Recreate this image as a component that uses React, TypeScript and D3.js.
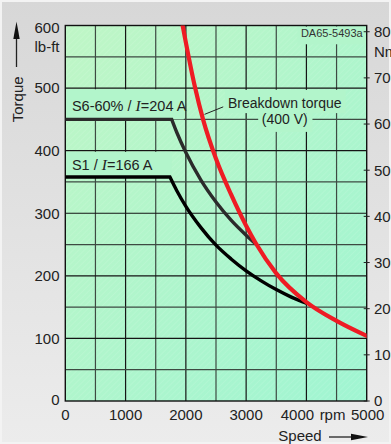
import React from "react";
import * as d3 from "d3";

// ---- data ----
const speedTicks = [0, 1000, 2000, 3000, 4000, 5000];
const torqueTicks = [0, 100, 200, 300, 400, 500, 600];
const nmTicks = [0, 100, 200, 300, 400, 500, 600, 700, 800];
const gridSpeeds = [500, 1000, 1500, 2000, 2500, 3000, 3500, 4000, 4500];
const gridTorques = [50, 100, 150, 200, 250, 300, 350, 400, 450, 500, 550];

// S6-60% / I=204 A  [rpm, lb-ft]
const s6Speed = [0, 1765, 1850, 2000, 2250, 2500, 2750, 3000, 3160];
const s6Torque = [450, 450, 429, 397, 353, 318, 289, 265, 251];
// S1 / I=166 A
const s1Speed = [0, 1735, 1850, 2000, 2250, 2500, 2750, 3000, 3250, 3500, 3750, 4010];
const s1Torque = [358, 358, 336, 311, 277, 249, 227, 208, 192, 178, 166, 156];
// Breakdown torque (400 V)
const bdSpeed = [1935, 2150, 2285, 2500, 2750, 3000, 3160, 3500, 4000, 4500, 5000];
const bdTorque = [606, 502, 450, 387, 330, 280, 252, 204, 158, 128, 104];

const NM_PER_LBFT = 1.35582;

const W = 391;
const H = 444;
const L = 65.3, R = 366.7, T = 25.5, B = 401;

const FONT = "'Liberation Sans', Arial, sans-serif";
const TXT = "#222";

export default function App() {
  const x = d3.scaleLinear().domain([0, 5000]).range([L, R]);
  const y = d3.scaleLinear().domain([0, 600]).range([B, T]);
  const yNm = d3.scaleLinear().domain([0, 600 * NM_PER_LBFT]).range([B, T]);

  const lineGen = d3
    .line<[number, number]>()
    .x((d) => x(d[0]))
    .y((d) => y(d[1]))
    .curve(d3.curveMonotoneX);

  // flat segment + smooth falling part with a sharp corner
  const cornerPath = (sp: number[], tq: number[]) => {
    const pts: [number, number][] = sp.map((s, i) => [s, tq[i]]);
    const flat = `M${x(pts[0][0])},${y(pts[0][1])}`;
    const fall = lineGen(pts.slice(1)) || "";
    return flat + "L" + fall.slice(1);
  };

  const bdPts: [number, number][] = bdSpeed.map((s, i) => [s, bdTorque[i]]);

  const majorX = (v: number) => v % 1000 === 0;
  const majorY = (v: number) => v % 100 === 0;

  return (
    <svg
      width={W}
      height={H}
      style={{ position: "absolute", left: 0, top: 0 }}
      fontFamily={FONT}
    >
      <defs>
        <linearGradient id="bg" x1="0" y1="0" x2="0" y2="1">
          <stop offset="0" stopColor="#d7d7d7" />
          <stop offset="1" stopColor="#ececec" />
        </linearGradient>
        <linearGradient id="plotbg" x1="0" y1="0" x2="1" y2="1">
          <stop offset="0" stopColor="#bff6c6" />
          <stop offset="1" stopColor="#a0f5d2" />
        </linearGradient>
        <pattern
          id="hatch"
          width="4"
          height="4"
          patternUnits="userSpaceOnUse"
          patternTransform="rotate(45)"
        >
          <line x1="0" y1="0" x2="0" y2="4" stroke="#ffffff" strokeWidth="1" opacity="0.18" />
        </pattern>
        <clipPath id="plotclip">
          <rect x={L} y={T} width={R - L} height={B - T} />
        </clipPath>
      </defs>

      {/* figure background */}
      <rect x={0} y={0} width={W} height={H} fill="url(#bg)" />
      <rect x={1} y={1} width={W - 2} height={H - 2} fill="none" stroke="#f3f3f3" strokeWidth={2} />

      {/* plot background */}
      <rect x={L} y={T} width={R - L} height={B - T} fill="url(#plotbg)" />
      <rect x={L} y={T} width={R - L} height={B - T} fill="url(#hatch)" />

      {/* grid */}
      {gridSpeeds.map((v) => (
        <line
          key={"gx" + v}
          x1={x(v)}
          x2={x(v)}
          y1={T}
          y2={B}
          stroke={majorX(v) ? "#151515" : "#3d4a42"}
          strokeWidth={1.2}
        />
      ))}
      {gridTorques.map((v) => (
        <line
          key={"gy" + v}
          x1={L}
          x2={R}
          y1={y(v)}
          y2={y(v)}
          stroke={majorY(v) ? "#151515" : "#3d4a42"}
          strokeWidth={1.2}
        />
      ))}

      {/* label backgrounds hiding the grid */}
      <g fill="#b2f5cb">
        <rect x={L + 1} y={y(500) + 1.2} width={x(1950) - L} height={y(450) - y(500) - 1.2} />
        <rect x={L + 1} y={y(400) + 1.2} width={x(1750) - L} height={y(358) - y(400) - 1.2} />
        <rect x={x(2650)} y={y(500) + 1.8} width={x(4650) - x(2650)} height={y(460) - y(500) - 1.8} />
        <rect x={x(3200)} y={y(460)} width={x(4100) - x(3200)} height={y(430) - y(460)} />
        <rect x={x(3850)} y={T + 1} width={R - x(3850) - 1} height={y(570) - T - 1} />
      </g>

      {/* plot border */}
      <rect x={L} y={T} width={R - L} height={B - T} fill="none" stroke="#111" strokeWidth={1.4} />

      {/* right axis ticks */}
      {nmTicks.map((v) => (
        <line key={"nt" + v} x1={R - 3} x2={R + 3} y1={yNm(v)} y2={yNm(v)} stroke="#222" strokeWidth={1} />
      ))}

      {/* curves */}
      <g clipPath="url(#plotclip)" fill="none" strokeLinejoin="miter" strokeLinecap="butt">
        <path d={cornerPath(s1Speed, s1Torque)} stroke="#000" strokeWidth={3.4} />
        <path d={cornerPath(s6Speed, s6Torque)} stroke="#2b2b2b" strokeWidth={3.4} />
        <path d={lineGen(bdPts) || ""} stroke="#ee1c24" strokeWidth={4.2} strokeLinecap="round" />
      </g>

      {/* leader for breakdown torque */}
      <line x1={x(2310)} y1={y(458)} x2={x(2620)} y2={y(470)} stroke="#222" strokeWidth={1} />

      {/* curve labels */}
      <text x={x(110)} y={y(450) - 8} fontSize={14.5} fill={TXT}>
        S6-60% /{" "}
        <tspan fontFamily="'Liberation Serif', 'Times New Roman', serif" fontStyle="italic" fontSize={15.5}>
          I
        </tspan>
        =204 A
      </text>
      <text x={x(110)} y={y(358) - 7} fontSize={14.5} fill={TXT}>
        S1 /{" "}
        <tspan fontFamily="'Liberation Serif', 'Times New Roman', serif" fontStyle="italic" fontSize={15.5}>
          I
        </tspan>
        =166 A
      </text>
      <text x={x(3640)} y={y(468)} fontSize={14} fill={TXT} textAnchor="middle">
        Breakdown torque
      </text>
      <text x={x(3640)} y={y(443)} fontSize={14} fill={TXT} textAnchor="middle">
        (400 V)
      </text>
      <text x={R - 4} y={y(582)} fontSize={11} fill="#333" textAnchor="end">
        DA65-5493a
      </text>

      {/* left axis labels */}
      {torqueTicks.map((v) => (
        <text
          key={"lt" + v}
          x={59.5}
          y={v === 600 ? y(v) + 7.5 : v === 0 ? y(v) + 4 : y(v) + 5.3}
          fontSize={15}
          fill={TXT}
          textAnchor="end"
        >
          {v}
        </text>
      ))}
      <text x={59.5} y={y(566) + 5.3} fontSize={15} fill={TXT} textAnchor="end">
        lb-ft
      </text>

      {/* right axis labels */}
      {nmTicks.map((v) => (
        <text key={"rt" + v} x={374} y={yNm(v) + 5.3} fontSize={15} fill={TXT}>
          {v}
        </text>
      ))}
      <text x={374} y={yNm(700) - 21} fontSize={15} fill={TXT}>
        Nm
      </text>

      {/* bottom axis labels */}
      {speedTicks.map((v) => (
        <text
          key={"bt" + v}
          x={v === 4000 ? x(v) - 9 : v === 5000 ? x(v) + 1 : x(v)}
          y={419.5}
          fontSize={15}
          fill={TXT}
          textAnchor="middle"
        >
          {v}
        </text>
      ))}
      <text x={x(4500) - 4} y={419.5} fontSize={15} fill={TXT} textAnchor="middle">
        rpm
      </text>

      {/* axis titles with arrows */}
      <text
        transform={`translate(22.5,${y(482)}) rotate(-90)`}
        fontSize={15}
        fill={TXT}
        textAnchor="middle"
      >
        Torque
      </text>
      <line x1={16.5} x2={16.5} y1={67} y2={36} stroke="#222" strokeWidth={1.3} />
      <path d="M13.3,39 L19.7,39 L16.5,21.5 Z" fill="#111" />

      <text x={300} y={440.5} fontSize={15} fill={TXT} textAnchor="middle">
        Speed
      </text>
      <line x1={329} x2={354} y1={437} y2={437} stroke="#222" strokeWidth={1.3} />
      <path d="M351,433.8 L351,440.2 L368,437 Z" fill="#111" />
    </svg>
  );
}
